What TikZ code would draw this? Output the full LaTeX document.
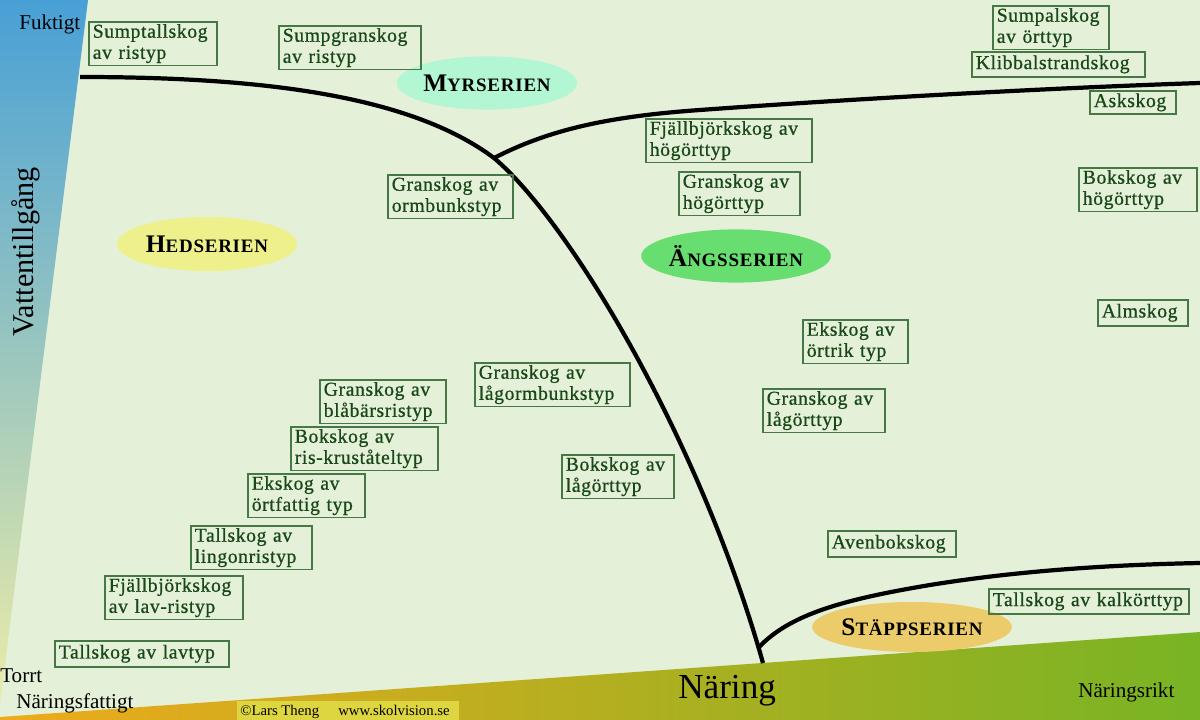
\documentclass[tikz,border=0pt]{standalone}
\usepackage{fontspec}
\setmainfont{Liberation Serif}
\newfontfamily\boxfont[LetterSpace=3,FakeBold=0.7]{Liberation Serif}
\newfontfamily\serfont[LetterSpace=4]{Liberation Serif}
\usetikzlibrary{shapes.geometric}
\definecolor{bgc}{RGB}{228,240,216}
\definecolor{myrcol}{RGB}{178,246,212}
\definecolor{hedcol}{RGB}{238,240,140}
\definecolor{angcol}{RGB}{104,222,112}
\definecolor{stapcol}{RGB}{236,204,106}
\definecolor{stripT}{RGB}{72,160,214}
\definecolor{stripM}{RGB}{140,190,196}
\definecolor{stripB}{RGB}{236,236,168}
\definecolor{bandL}{RGB}{238,170,28}
\definecolor{bandM}{RGB}{206,186,22}
\definecolor{bandR}{RGB}{120,180,36}
\definecolor{copyc}{RGB}{222,214,64}
\definecolor{boxgreen}{RGB}{70,120,70}
\definecolor{txtgreen}{RGB}{24,72,24}
\newcommand{\sct}[2]{{\fontsize{18}{20}\selectfont #1}{\fontsize{13.5}{20}\selectfont #2}}
\begin{document}
\begin{tikzpicture}[x=0.025cm,y=-0.025cm,
  bound/.style={line width=3pt, black},
  forest/.style={draw=boxgreen, line width=1.1pt, text=txtgreen,
    font={\boxfont\fontsize{14}{15}\selectfont}, anchor=north west,
    inner xsep=0.1cm, inner ysep=1pt, align=left},
  two/.style={minimum height=1.09cm},
  one/.style={minimum height=0.63cm},
  serie/.style={ellipse, inner sep=0pt, text=black, font={\serfont\bfseries}},
  axislabel/.style={anchor=base west, inner sep=0pt, text=black}]
\useasboundingbox (0,0) rectangle (1200,720);
\fill[bgc] (0,0) rectangle (1200,720);
% gradient strips
\shade[top color=stripT, middle color=stripM, bottom color=stripB] (0,0) -- (88,0) -- (0,704) -- cycle;
\shade[left color=bandL, middle color=bandM, right color=bandR] (0,717) -- (1200,632) -- (1200,720) -- (0,720) -- cycle;
\fill[copyc] (237,701) rectangle (459,720);
% boundary curves
\coordinate (start) at (80,77);
\coordinate (jtop) at (494,158);
\coordinate (jbot) at (759,647);
\coordinate (mainend) at (763,663);
\coordinate (topend) at (1200,83);
\coordinate (botend) at (1200,563);
\draw[bound] (start) .. controls (260,77) and (410,95) .. (jtop)
  .. controls (570,222) and (700,440) .. (mainend);
\draw[bound] (jtop) .. controls (545,132) and (600,117) .. (700,110)
  .. controls (850,99) and (1050,88) .. (topend);
\draw[bound] (jbot) .. controls (790,615) and (840,600) .. (930,585)
  .. controls (1010,572) and (1100,565) .. (botend);
% series ellipses
\node[serie, fill=myrcol, minimum width=4.5cm, minimum height=1.33cm] (myr) at (487,83) {\sct{M}{YRSERIEN}};
\node[serie, fill=hedcol, minimum width=4.5cm, minimum height=1.35cm] (hed) at (207,244) {\sct{H}{EDSERIEN}};
\node[serie, fill=angcol, minimum width=4.2cm, minimum height=1.33cm] (ang) at (736,256) {\sct{Ä}{NGSSERIEN}};
\node[serie, fill=stapcol, minimum width=4.475cm, minimum height=1.25cm] (stap) at (912,627) {\sct{S}{TÄPPSERIEN}};
% forest type boxes
\node[forest,two,text width=3.0cm] (b1) at (88,21) {Sumptallskog\\av~ristyp};
\node[forest,two,text width=3.35cm] (b2) at (278,25) {Sumpgranskog\\av~ristyp};
\node[forest,two,text width=2.7cm] (b3) at (992,5) {Sumpalskog\\av~örttyp};
\node[forest,one,text width=4.125cm] (b4) at (971,51) {Klibbalstrandskog};
\node[forest,one,minimum height=0.58cm,text width=1.95cm] (b5) at (1089,90) {Askskog};
\node[forest,two,text width=3.95cm] (b6) at (645,118) {Fjällbjörkskog~av\\högörttyp};
\node[forest,two,text width=2.825cm] (b7) at (678,171) {Granskog~av\\högörttyp};
\node[forest,two,text width=2.75cm] (b8) at (1078,167) {Bokskog~av\\högörttyp};
\node[forest,two,text width=2.925cm] (b9) at (387,174) {Granskog~av\\ormbunkstyp};
\node[forest,one,minimum height=0.65cm,text width=2.05cm] (b10) at (1097,299) {Almskog};
\node[forest,two,text width=2.425cm] (b11) at (802,319) {Ekskog~av\\örtrik~typ};
\node[forest,two,text width=3.675cm] (b12) at (474,362) {Granskog~av\\lågormbunkstyp};
\node[forest,two,text width=2.95cm] (b13) at (319,379) {Granskog~av\\blåbärsristyp};
\node[forest,two,text width=2.85cm] (b14) at (762,388) {Granskog~av\\lågörttyp};
\node[forest,two,text width=3.475cm] (b15) at (290,426) {Bokskog~av\\ris-kruståteltyp};
\node[forest,two,text width=2.6cm] (b16) at (561,454) {Bokskog~av\\lågörttyp};
\node[forest,two,text width=2.725cm] (b17) at (247,473) {Ekskog~av\\örtfattig~typ};
\node[forest,two,text width=2.825cm] (b18) at (190,525) {Tallskog~av\\lingonristyp};
\node[forest,one,minimum height=0.65cm,text width=3.0cm] (b19) at (827,530) {Avenbokskog};
\node[forest,two,text width=3.25cm] (b20) at (104,575) {Fjällbjörkskog\\av~lav-ristyp};
\node[forest,one,text width=4.8cm] (b21) at (988,588) {Tallskog~av~kalkörttyp};
\node[forest,one,minimum height=0.65cm,text width=4.15cm] (b22) at (54,640) {Tallskog~av~lavtyp};
% axis labels
\node[axislabel, font=\fontsize{15}{18}\selectfont] (fukt) at (19,30) {Fuktigt};
\node[axislabel, rotate=90, font=\fontsize{21.5}{24}\selectfont] (vatten) at (33,337) {Vattentillgång};
\node[axislabel, font=\fontsize{15}{18}\selectfont] (torrt) at (0,682) {Torrt};
\node[axislabel, font=\fontsize{15}{18}\selectfont] (fattig) at (16,708) {Näringsfattigt};
\node[axislabel, font=\fontsize{25}{30}\selectfont] (naring) at (678,698) {Näring};
\node[axislabel, font=\fontsize{15}{18}\selectfont] (rikt) at (1078,697) {Näringsrikt};
\node[axislabel, font=\fontsize{10.5}{12}\selectfont] (copy) at (240,715) {©Lars Theng\hspace{11pt} www.skolvision.se};
\end{tikzpicture}
\end{document}
